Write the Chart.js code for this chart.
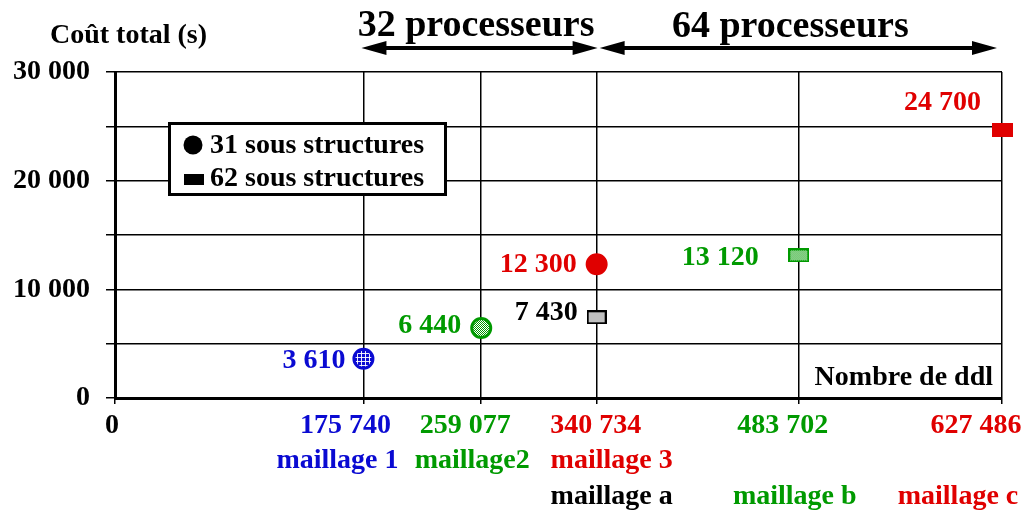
<!DOCTYPE html>
<html>
<head>
<meta charset="utf-8">
<script src="https://cdn.jsdelivr.net/npm/chart.js@4.4.1/dist/chart.umd.min.js"></script>
<style>
  html, body { margin: 0; padding: 0; background: #fff; }
  canvas { display: block; }
</style>
</head>
<body>
<canvas id="chart" width="1026" height="510"></canvas>
<script>
const FONT = "'Liberation Serif', 'Times New Roman', serif";
const BLUE = '#0a0ad2';
const GREEN = '#009a00';
const RED = '#e00000';
const BLACK = '#000000';
const GRAY = '#c0c0c0';

// x axis: number of dof of each mesh
const DDL = [175740, 259077, 340734, 483702, 627486];
const DDL_COLORS = [BLUE, GREEN, RED, GREEN, RED];
const MESH_32 = ['maillage 1', 'maillage2', 'maillage 3', '', ''];
const MESH_32_COLORS = [BLUE, GREEN, RED, BLACK, BLACK];
const MESH_64 = ['', '', 'maillage a', 'maillage b', 'maillage c'];
const MESH_64_COLORS = [BLACK, BLACK, BLACK, GREEN, RED];

// 31 sub-structures (circles)
const CIRCLE_DDL = [175740, 259077, 340734];
const CIRCLE_COST = [3610, 6440, 12300];
const CIRCLE_COLORS = [BLUE, GREEN, RED];

// 62 sub-structures (squares)
const SQUARE_DDL = [340734, 483702, 627486];
const SQUARE_COST = [7430, 13120, 24700];
const SQUARE_COLORS = [BLACK, GREEN, RED];

const Y_MAX = 30000;
const Y_STEP = 5000;
const Y_LABEL_STEP = 10000;

// label placement relative to the marker (px)
const CIRCLE_LABEL_DX = [-18, -20, -20];
const CIRCLE_LABEL_DY = [2, -2, 0];
const SQUARE_LABEL_DX = [-19, -40, -21];
const SQUARE_LABEL_DY = [-4, 2, -27];
const DDL_LABEL_DX = [-18, -16, -1, -16, -26];
const MESH_32_DX = [-26, -9, 15, 0, 0];
const MESH_64_DX = [0, 0, 15, -4, -44];

const fmt = v => String(v).replace(/\B(?=(\d{3})+(?!\d))/g, ' ');
const bold = size => `bold ${size}px ${FONT}`;

const canvas = document.getElementById('chart');
const ctx0 = canvas.getContext('2d');

function tile(w, h, draw) {
    const c = document.createElement('canvas');
    c.width = w;
    c.height = h;
    draw(c.getContext('2d'));
    return c;
}

// blue mesh and green dotted fills
const bluePattern = ctx0.createPattern(tile(4, 4, g => {
    g.fillStyle = BLUE;
    g.fillRect(0, 0, 4, 4);
    g.fillStyle = 'rgba(255,255,255,0.9)';
    g.fillRect(1, 0, 1, 4);
    g.fillRect(0, 1, 4, 1);
}), 'repeat');
const greenPattern = ctx0.createPattern(tile(2, 2, g => {
    g.fillStyle = '#ffffff';
    g.fillRect(0, 0, 2, 2);
    g.fillStyle = GREEN;
    g.fillRect(0, 0, 1, 1);
    g.fillRect(1, 1, 1, 1);
}), 'repeat');

function rectMarker(w, h, fill, stroke, lw) {
    return tile(w, h, g => {
        g.fillStyle = fill;
        g.fillRect(0, 0, w, h);
        if (stroke) {
            g.strokeStyle = stroke;
            g.lineWidth = lw;
            g.strokeRect(lw / 2, lw / 2, w - lw, h - lw);
        }
    });
}

const SQUARE_MARKERS = [
    rectMarker(20, 14, GRAY, BLACK, 2),
    rectMarker(21, 14, greenPattern, GREEN, 2),
    rectMarker(21, 14, RED, null, 0),
];

function drawArrow(ctx, x1, x2, y) {
    const head = 25, half = 7;
    ctx.save();
    ctx.strokeStyle = BLACK;
    ctx.fillStyle = BLACK;
    ctx.lineWidth = 4;
    ctx.beginPath();
    ctx.moveTo(x1 + head - 2, y);
    ctx.lineTo(x2 - head + 2, y);
    ctx.stroke();
    ctx.beginPath();
    ctx.moveTo(x1, y);
    ctx.lineTo(x1 + head, y - half);
    ctx.lineTo(x1 + head, y + half);
    ctx.closePath();
    ctx.fill();
    ctx.beginPath();
    ctx.moveTo(x2, y);
    ctx.lineTo(x2 - head, y - half);
    ctx.lineTo(x2 - head, y + half);
    ctx.closePath();
    ctx.fill();
    ctx.restore();
}

const annotations = {
    id: 'annotations',
    afterDraw(chart) {
        const ctx = chart.ctx;
        const xs = chart.scales.x;
        const area = chart.chartArea;
        ctx.save();
        ctx.fillStyle = BLACK;
        ctx.font = bold(28);
        ctx.textBaseline = 'alphabetic';

        // axis titles
        ctx.textAlign = 'left';
        ctx.fillText('Coût total (s)', 50, 43);
        ctx.textAlign = 'right';
        ctx.fillText('Nombre de ddl', area.right - 9, 385);

        // processor ranges
        const p1 = xs.getPixelForValue(DDL[0]);
        const p3 = xs.getPixelForValue(DDL[2]);
        const p5 = xs.getPixelForValue(DDL[4]);
        drawArrow(ctx, p1 - 2, p3 + 1, 48);
        drawArrow(ctx, p3 + 3, p5 - 5, 48);
        ctx.textAlign = 'center';
        ctx.font = bold(38);
        ctx.fillText('32 processeurs', (p1 + p3) / 2 - 4, 36);
        ctx.fillText('64 processeurs', (p3 + p5) / 2 - 9, 37);

        // x tick labels (dof + mesh names)
        ctx.font = bold(28);
        ctx.fillText('0', xs.getPixelForValue(0) - 3, 433);
        DDL.forEach((v, i) => {
            const x = xs.getPixelForValue(v);
            ctx.fillStyle = DDL_COLORS[i];
            ctx.fillText(fmt(v), x + DDL_LABEL_DX[i], 433);
            if (MESH_32[i]) {
                ctx.fillStyle = MESH_32_COLORS[i];
                ctx.fillText(MESH_32[i], x + MESH_32_DX[i], 468);
            }
            if (MESH_64[i]) {
                ctx.fillStyle = MESH_64_COLORS[i];
                ctx.fillText(MESH_64[i], x + MESH_64_DX[i], 504);
            }
        });

        // value labels next to the markers
        ctx.textAlign = 'right';
        ctx.textBaseline = 'middle';
        const circles = chart.getDatasetMeta(0).data;
        circles.forEach((pt, i) => {
            ctx.fillStyle = CIRCLE_COLORS[i];
            ctx.fillText(fmt(CIRCLE_COST[i]), pt.x + CIRCLE_LABEL_DX[i], pt.y + CIRCLE_LABEL_DY[i]);
        });
        const squares = chart.getDatasetMeta(1).data;
        squares.forEach((pt, i) => {
            ctx.fillStyle = SQUARE_COLORS[i];
            ctx.fillText(fmt(SQUARE_COST[i]), pt.x + SQUARE_LABEL_DX[i], pt.y + SQUARE_LABEL_DY[i]);
        });

        // legend box
        ctx.fillStyle = '#ffffff';
        ctx.fillRect(169, 123, 277, 72);
        ctx.strokeStyle = BLACK;
        ctx.lineWidth = 3;
        ctx.strokeRect(169.5, 123.5, 276, 71);
        ctx.fillStyle = BLACK;
        ctx.beginPath();
        ctx.arc(193, 145, 9.5, 0, Math.PI * 2);
        ctx.fill();
        ctx.fillRect(184, 174, 20, 11);
        ctx.textAlign = 'left';
        ctx.textBaseline = 'alphabetic';
        ctx.font = bold(28);
        ctx.fillText(chart.data.datasets[0].label, 210, 153);
        ctx.fillText(chart.data.datasets[1].label, 210, 186);
        ctx.restore();
    },
};

new Chart(canvas, {
    type: 'scatter',
    data: {
        datasets: [
            {
                label: '31 sous structures',
                data: CIRCLE_DDL.map((x, i) => ({ x, y: CIRCLE_COST[i] })),
                pointStyle: 'circle',
                pointRadius: 9.5,
                pointBorderWidth: 3,
                pointBackgroundColor: [bluePattern, greenPattern, RED],
                pointBorderColor: CIRCLE_COLORS,
                clip: false,
            },
            {
                label: '62 sous structures',
                data: SQUARE_DDL.map((x, i) => ({ x, y: SQUARE_COST[i] })),
                pointStyle: SQUARE_MARKERS,
                pointRadius: 10,
                clip: false,
            },
        ],
    },
    options: {
        responsive: false,
        animation: false,
        events: [],
        layout: { padding: { left: 0, top: 72, right: 24, bottom: 0 } },
        plugins: {
            legend: { display: false },
            tooltip: { enabled: false },
        },
        scales: {
            x: {
                type: 'linear',
                min: 0,
                max: DDL[DDL.length - 1],
                afterBuildTicks: scale => {
                    scale.ticks = [0, ...DDL].map(value => ({ value }));
                },
                afterFit: scale => { scale.height = 112; },
                ticks: { display: false },
                grid: { color: BLACK, lineWidth: 1.5, tickLength: 6 },
                border: { color: BLACK, width: 3 },
            },
            y: {
                min: 0,
                max: Y_MAX,
                afterFit: scale => { scale.width = 115; },
                ticks: {
                    stepSize: Y_STEP,
                    padding: 16,
                    color: BLACK,
                    font: { family: FONT, size: 28, weight: 'bold' },
                    callback: v => (v % Y_LABEL_STEP === 0 ? fmt(v) : ''),
                },
                grid: { color: BLACK, lineWidth: 1.5, tickLength: 9 },
                border: { color: BLACK, width: 3 },
            },
        },
    },
    plugins: [annotations],
});
</script>
</body>
</html>
